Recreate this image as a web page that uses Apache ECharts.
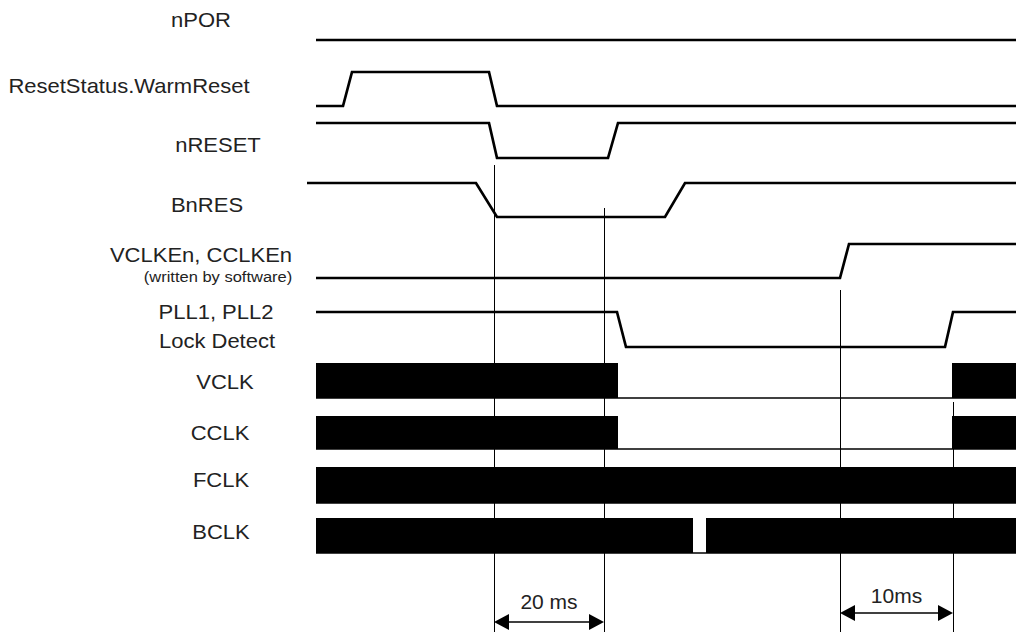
<!DOCTYPE html>
<html>
<head>
<meta charset="utf-8">
<style>
  html, body { margin: 0; padding: 0; background: #fff; }
  #main { width: 1016px; height: 632px; }
</style>
<script src="https://cdn.jsdelivr.net/npm/echarts@6/dist/echarts.min.js"></script>
</head>
<body>
<div id="main"></div>
<script>
// time axis: abstract units, 0 = start of the traces, traceEnd = right edge
var traceEnd = 700;

// signal traces: [time, level] (1 = high, 0 = low)
var nPOR      = [[0, 1], [700, 1]];
var warmReset = [[0, 0], [27, 0], [36, 1], [173, 1], [181, 0], [700, 0]];
var nRESET    = [[0, 1], [173, 1], [181, 0], [292, 0], [302, 1], [700, 1]];
var bnRES     = [[-9, 1], [160, 1], [181, 0], [349, 0], [369, 1], [700, 1]];
var clkEn     = [[0, 0], [524, 0], [533, 1], [700, 1]];
var pllLock   = [[0, 1], [301, 1], [310, 0], [629, 0], [637, 1], [700, 1]];

// clocks: [start, end] of running spans
var vclkOn = [[0, 302], [636, 700]];
var cclkOn = [[0, 302], [636, 700]];
var fclkOn = [[0, 700]];
var bclkOn = [[0, 377], [390, 700]];

// timing marks and measured spans
var markerTimes = [178, 288, 524, 637];
var spanFrom  = [178, 524];
var spanTo    = [288, 637];
var spanNames = ['20 ms', '10ms'];

// label texts
var signalLabels = ['nPOR', 'ResetStatus.WarmReset', 'nRESET', 'BnRES', 'VCLKEn, CCLKEn', 'PLL1, PLL2', 'Lock Detect'];
var clockLabels = ['VCLK', 'CCLK', 'FCLK', 'BCLK'];
var noteLabel = '(written by software)';

// ---- layout (vertical positions in chart units = px) ----
var rows = [
  {hi: 40, lo: 74}, {hi: 72, lo: 106}, {hi: 123, lo: 158},
  {hi: 183, lo: 217}, {hi: 244, lo: 278}, {hi: 312, lo: 347}
];
var clockRows = [{hi: 363, lo: 398}, {hi: 416, lo: 449}, {hi: 467, lo: 503}, {hi: 518, lo: 553}];
var markerTop = [165, 208, 290, 402];
var spanY = [622, 613];
var spanTextGap = [21, 18];
var signalLabelPos = [[201, 20], [129, 86], [218, 145], [207, 205], [201, 255], [216, 312], [217, 341]];
var clockLabelPos = [[225, 382], [220, 433], [221, 480], [221, 532]];
var notePos = [218, 277];

var FONT = '"Liberation Sans", Arial, Helvetica, sans-serif';
var traces = [nPOR, warmReset, nRESET, bnRES, clkEn, pllLock];
var clocks = [vclkOn, cclkOn, fclkOn, bclkOn];

var series = [];

traces.forEach(function (tr, i) {
  series.push({
    type: 'line',
    data: tr.map(function (p) { return [p[0], p[1] ? rows[i].hi : rows[i].lo]; }),
    symbol: 'none',
    silent: true,
    z: 3,
    lineStyle: {color: '#000', width: 2.7, join: 'miter'}
  });
});

// low baseline under each clock (shows where the clock is stopped)
clocks.forEach(function (c, i) {
  series.push({
    type: 'line',
    data: [[0, clockRows[i].lo], [traceEnd, clockRows[i].lo]],
    symbol: 'none',
    silent: true,
    lineStyle: {color: '#000', width: 1.5}
  });
});

// running clock = solid black band
var bandData = [];
clocks.forEach(function (c, i) {
  c.forEach(function (s) { bandData.push([s[0], s[1], i]); });
});
series.push({
  type: 'custom',
  data: bandData,
  encode: {x: [0, 1]},
  silent: true,
  z: 2,
  renderItem: function (params, api) {
    var r = clockRows[api.value(2)];
    var p0 = api.coord([api.value(0), r.hi]);
    var p1 = api.coord([api.value(1), r.lo]);
    return {
      type: 'rect',
      shape: {x: p0[0], y: p0[1], width: p1[0] - p0[0], height: p1[1] - p0[1]},
      style: {fill: '#000'}
    };
  }
});

// vertical timing marks
series.push({
  type: 'lines',
  coordinateSystem: 'cartesian2d',
  silent: true,
  data: markerTimes.map(function (t, i) { return {coords: [[t, markerTop[i]], [t, 632]]}; }),
  lineStyle: {color: '#000', width: 1, opacity: 1}
});

// dimension arrows with their labels
var spanData = spanNames.map(function (n, i) { return [spanFrom[i], spanTo[i], i]; });
series.push({
  type: 'custom',
  data: spanData,
  encode: {x: [0, 1]},
  silent: true,
  z: 4,
  renderItem: function (params, api) {
    var k = api.value(2);
    var a = api.coord([api.value(0), spanY[k]]);
    var b = api.coord([api.value(1), spanY[k]]);
    var L = 15, H = 8;
    return {
      type: 'group',
      children: [
        {type: 'line', shape: {x1: a[0] + L, y1: a[1], x2: b[0] - L, y2: b[1]}, style: {stroke: '#000', lineWidth: 1.5}},
        {type: 'polygon', shape: {points: [[a[0], a[1]], [a[0] + L, a[1] - H], [a[0] + L, a[1] + H]]}, style: {fill: '#000'}},
        {type: 'polygon', shape: {points: [[b[0], b[1]], [b[0] - L, b[1] - H], [b[0] - L, b[1] + H]]}, style: {fill: '#000'}},
        {type: 'text', x: (a[0] + b[0]) / 2, y: a[1] - spanTextGap[k],
          style: {text: spanNames[k], fill: '#222', fontFamily: FONT, fontSize: 21, align: 'center', verticalAlign: 'middle'}}
      ]
    };
  }
});

var graphics = [];
function addText(txt, pos, size) {
  graphics.push({
    type: 'text', x: pos[0], y: pos[1], scaleX: 1.1, silent: true,
    style: {text: txt, fill: '#222', fontFamily: FONT, fontSize: size, align: 'center', verticalAlign: 'middle'}
  });
}
signalLabels.forEach(function (t, i) { addText(t, signalLabelPos[i], 20); });
clockLabels.forEach(function (t, i) { addText(t, clockLabelPos[i], 20); });
addText(noteLabel, notePos, 15);

var chart = echarts.init(document.getElementById('main'), null, {renderer: 'svg'});
chart.setOption({
  animation: false,
  backgroundColor: '#fff',
  grid: {left: 300, right: 0, top: 0, bottom: 0},
  xAxis: {type: 'value', min: -16, max: traceEnd, show: false},
  yAxis: {type: 'value', min: 0, max: 632, inverse: true, show: false},
  graphic: graphics,
  series: series
});
</script>
</body>
</html>
